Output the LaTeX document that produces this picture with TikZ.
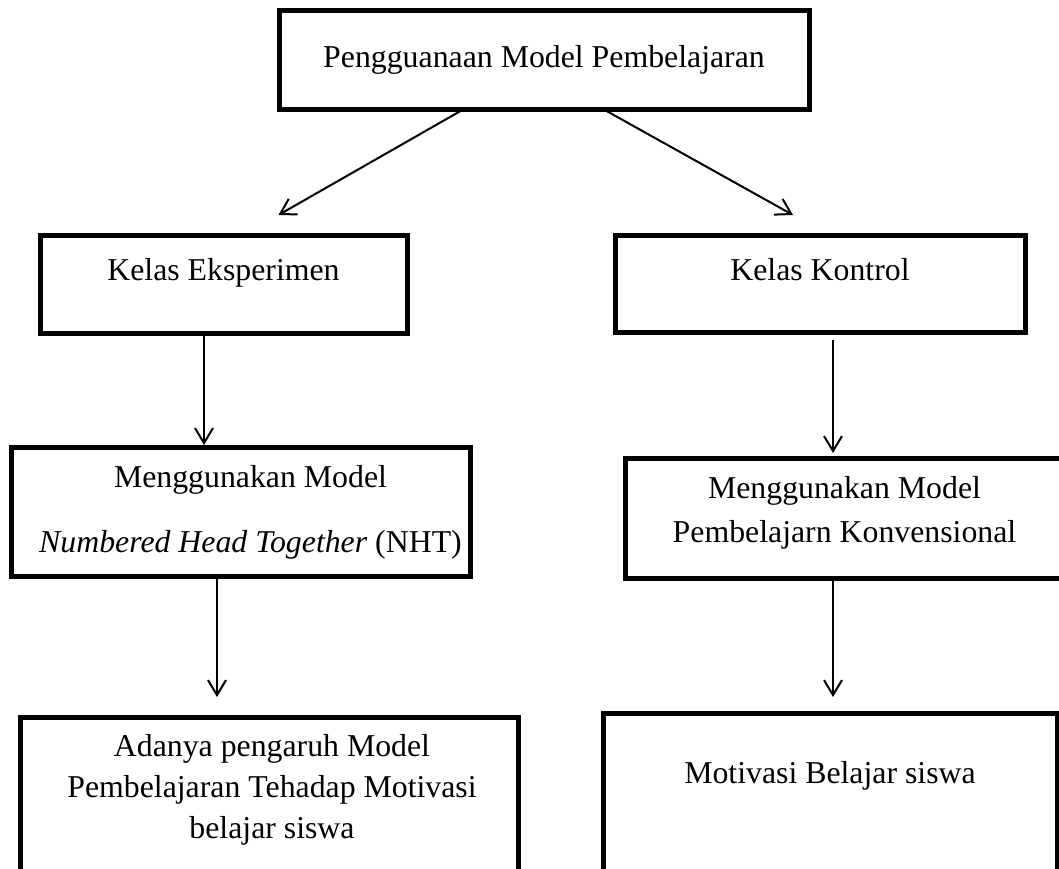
\documentclass[tikz,border=0pt]{standalone}
\usepackage{fontspec}
\setmainfont{Liberation Serif}
\usetikzlibrary{arrows.meta}

\begin{document}
\begin{tikzpicture}[
    x=0.5pt, y=-0.5pt,
    flowbox/.style={
        draw=black,
        fill=white,
        line width=2.5pt,
        inner sep=0pt,
        outer sep=0pt,
        anchor=north west,
    },
    boxtext/.style={
        anchor=base,
        align=center,
        inner sep=0pt,
        font=\fontsize{15.9}{20.5}\selectfont,
    },
    flowarrow/.style={
        -{Straight Barb[length=7.5pt,width=9pt]},
        line width=1pt,
        color=black,
    },
]
\clip (0,0) rectangle (1059,868);

\node[flowbox,minimum width=265pt,minimum height=49.5pt,
    label={[boxtext,shift={(0,57)}]north:Pengguanaan Model Pembelajaran}] (pm) at (279,10) {};

\node[flowbox,minimum width=183.5pt,minimum height=49pt,
    label={[boxtext,shift={(0,45)}]north:Kelas Eksperimen}] (ke) at (40,235) {};

\node[flowbox,minimum width=205pt,minimum height=48.5pt,
    label={[boxtext,shift={(0,45)}]north:Kelas Kontrol}] (kk) at (615,235) {};

\node[flowbox,minimum width=229.5pt,minimum height=64.5pt,
    label={[boxtext,shift={(10,105)}]north:{Menggunakan Model\\[12pt]\textit{Numbered Head Together} (NHT)}}] (nht) at (11,447) {};

\node[flowbox,minimum width=219.5pt,minimum height=60pt,
    label={[boxtext,shift={(0,84)}]north:{Menggunakan Model\\[1.5pt]Pembelajarn Konvensional}}] (kv) at (625,458) {};

\node[flowbox,minimum width=249pt,minimum height=91.5pt,
    label={[boxtext,shift={(3,121)}]north:{Adanya pengaruh Model\\Pembelajaran Tehadap Motivasi\\belajar siswa}}] (ap) at (20,717) {};

\node[flowbox,minimum width=227pt,minimum height=93.5pt,
    label={[boxtext,shift={(0,70)}]north:Motivasi Belajar siswa}] (mb) at (603,713) {};

\draw[flowarrow] ([shift={(-80,0)}]pm.south) -- ([shift={(55,-20)}]ke.north);
\draw[flowarrow] ([shift={(59,0)}]pm.south) -- ([shift={(-27,-20)}]kk.north);
\draw[flowarrow] ([shift={(-19.5,0)}]ke.south) -- ([shift={(-36.5,-2)}]nht.north);
\draw[flowarrow] ([shift={(13,8)}]kk.south) -- ([shift={(-11.5,-5)}]kv.north);
\draw[flowarrow] ([shift={(-23.5,0)}]nht.south) -- ([shift={(-52,-20)}]ap.north);
\draw[flowarrow] ([shift={(-11.5,0)}]kv.south) -- ([shift={(3,-16)}]mb.north);
\end{tikzpicture}
\end{document}
